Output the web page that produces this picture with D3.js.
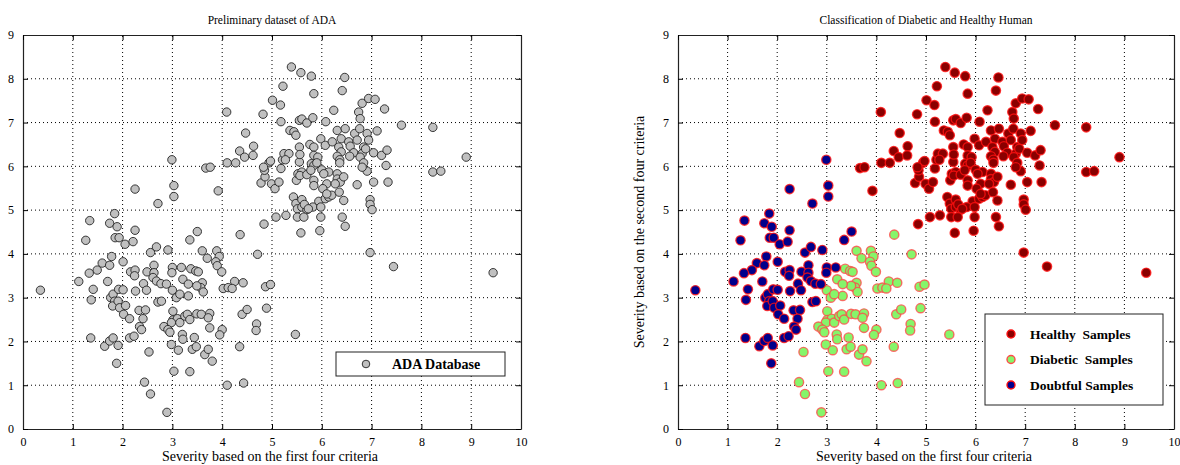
<!DOCTYPE html>
<html>
<head>
<meta charset="utf-8">
<script src="https://cdn.jsdelivr.net/npm/d3@7"></script>
<style>
  body { margin: 0; background: #fff; }
  text { font-family: "Liberation Serif", "DejaVu Serif", serif; fill: #000; }
</style>
</head>
<body>
<div id="chart"></div>
<script>
// data, [severity first four, severity second four]
var healthy = [
  [4.09,7.24],[4.10,6.08],[4.27,6.08],[4.35,6.35],[4.47,6.76],[4.45,6.21],[4.63,6.46],[4.62,6.25],
  [3.67,5.96],[3.76,5.98],[3.92,5.44],[4.82,7.19],[4.84,4.68],[5.08,4.84],[5.28,4.88],[4.78,5.62],
  [4.86,5.76],[4.85,5.91],[4.94,6.08],[4.99,5.60],[5.06,5.49],[5.14,5.64],[5.18,5.95],[5.21,6.15],
  [5.24,6.29],[5.34,6.29],[5.01,7.51],[5.17,7.40],[5.18,7.02],[5.22,7.83],[5.39,8.27],[5.36,6.82],
  [5.44,6.79],[5.48,6.71],[5.43,5.30],[5.48,5.15],[5.51,5.03],[5.51,4.84],[5.58,4.48],[5.49,5.68],
  [5.52,5.83],[5.55,6.10],[5.55,6.44],[5.55,7.05],[5.58,8.14],[5.79,8.06],[6.46,8.03],[5.84,7.66],
  [6.41,7.73],[5.60,7.08],[5.70,6.99],[5.82,7.11],[6.08,7.02],[6.24,7.28],[6.74,7.24],[6.77,7.09],
  [6.81,7.44],[6.94,7.55],[7.07,7.53],[7.26,7.31],[7.60,6.94],[8.23,6.89],[8.90,6.21],[8.23,5.87],
  [8.39,5.89],[6.31,6.82],[6.47,6.86],[6.66,6.75],[6.76,6.86],[7.11,6.81],[5.98,6.63],[6.07,6.48],
  [6.21,6.56],[6.39,6.63],[6.54,6.56],[6.57,6.46],[6.71,6.60],[6.84,6.44],[6.91,6.75],[6.94,6.60],
  [5.76,6.50],[5.84,6.44],[6.34,6.44],[6.39,6.33],[6.64,6.31],[6.81,6.29],[6.88,6.40],[7.04,6.31],
  [7.20,6.25],[7.31,6.37],[7.29,6.02],[7.33,5.64],[7.04,5.64],[6.71,5.58],[5.27,6.15],[4.97,6.12],
  [4.83,5.98],[5.56,6.27],[5.84,6.25],[5.92,6.21],[5.79,6.06],[5.84,6.02],[5.90,6.08],[6.00,5.92],
  [6.14,5.87],[6.31,6.23],[6.36,6.15],[6.36,6.08],[6.56,6.23],[6.77,6.21],[6.84,6.08],[6.91,5.89],
  [6.81,5.98],[5.60,5.87],[5.56,5.79],[5.70,5.81],[5.78,5.91],[5.84,5.68],[5.84,5.56],[6.04,5.83],
  [6.10,5.60],[6.02,5.49],[6.31,5.83],[6.31,5.71],[6.37,5.64],[6.27,5.60],[6.44,5.76],[5.60,5.24],
  [5.60,5.07],[5.70,5.01],[5.65,5.13],[5.94,5.20],[6.07,5.26],[6.14,5.30],[6.20,5.34],[6.10,5.37],
  [6.35,5.41],[6.44,5.22],[5.82,5.07],[5.98,5.07],[5.73,5.03],[6.97,5.24],[6.97,5.13],[7.01,5.01],
  [5.64,4.84],[5.98,4.84],[6.41,4.84],[6.47,4.63],[5.96,4.53],[6.97,4.03],[7.44,3.71],[9.44,3.57]
];

var diabetic = [
  [4.36,4.44],[4.71,3.99],[4.87,3.25],[4.97,3.30],[4.89,2.76],[4.69,2.40],[4.68,2.25],[5.47,2.16],
  [4.35,1.88],[4.40,2.62],[4.50,2.73],[4.25,3.37],[4.42,3.34],[4.02,3.21],[4.12,3.23],[4.20,3.21],
  [4.10,1.00],[4.43,1.05],[3.60,4.07],[3.70,3.90],[3.89,4.07],[3.94,3.94],[3.87,3.82],[3.90,3.73],
  [3.99,3.59],[3.60,3.34],[3.57,3.23],[3.62,3.13],[3.49,3.27],[3.37,3.66],[3.47,3.61],[3.52,3.59],
  [3.21,3.42],[3.32,3.31],[3.32,3.04],[3.00,3.17],[3.08,3.00],[3.15,3.08],[3.01,2.69],[3.01,2.49],
  [3.10,2.52],[2.98,2.43],[2.83,2.34],[2.91,2.27],[2.95,2.21],[3.15,2.43],[3.25,2.58],[3.30,2.62],
  [3.35,2.50],[3.49,2.63],[3.58,2.62],[3.75,2.64],[3.72,2.54],[3.75,2.31],[3.20,2.16],[3.21,2.05],
  [3.44,2.09],[4.00,2.27],[3.95,2.15],[2.53,1.76],[2.98,1.93],[3.12,1.80],[3.40,1.82],[3.48,1.88],
  [3.65,1.70],[3.72,1.82],[3.80,1.55],[3.03,1.32],[3.35,1.31],[2.44,1.07],[2.56,0.80],[2.89,0.38]
];

var doubtful = [
  [0.35,3.17],[1.34,4.76],[1.74,4.70],[1.89,4.62],[2.25,4.54],[1.26,4.31],[1.85,4.37],[1.93,4.37],
  [2.05,4.22],[2.21,4.28],[1.78,3.94],[2.01,3.82],[1.59,3.79],[1.74,3.74],[1.49,3.63],[1.33,3.56],
  [1.12,3.37],[1.70,3.37],[1.41,3.19],[1.37,2.95],[2.16,3.59],[2.25,3.63],[2.24,3.50],[2.26,3.15],
  [2.42,3.32],[2.49,3.59],[2.56,4.03],[2.68,4.16],[2.91,4.09],[2.63,3.74],[2.63,3.57],[2.61,3.46],
  [2.68,3.38],[2.77,3.32],[2.88,3.31],[3.00,3.69],[2.99,3.57],[3.18,3.69],[3.35,4.32],[3.50,4.51],
  [2.48,3.17],[1.76,3.00],[1.81,3.08],[1.92,3.19],[2.01,3.18],[1.84,2.92],[1.80,2.81],[1.91,2.92],
  [1.94,2.77],[2.06,2.82],[2.02,2.62],[2.14,2.52],[2.71,2.90],[2.78,2.92],[2.33,2.71],[2.46,2.72],
  [2.41,2.52],[2.34,2.34],[2.38,2.27],[2.14,2.08],[2.23,2.12],[1.36,2.08],[1.64,1.89],[1.74,2.01],
  [1.81,2.08],[1.91,1.91],[1.88,1.50],[1.84,4.92],[2.25,5.48],[2.71,5.15],[2.99,6.15],[3.03,5.56],
  [3.03,5.31]
];

var xTicks = [0,1,2,3,4,5,6,7,8,9,10];
var yTicks = [0,1,2,3,4,5,6,7,8,9];

var width = 1180, height = 465;
var svg = d3.select("#chart").append("svg")
    .attr("width", width).attr("height", height);

// one MATLAB-style boxed panel
function panel(left, right, title, yLabel) {
    var x = d3.scaleLinear().domain([0, 10]).range([left, right]);
    var y = d3.scaleLinear().domain([0, 9]).range([429, 35]);
    var g = svg.append("g");

    // dotted grid
    g.selectAll(".gx").data(xTicks.slice(1, -1)).enter().append("line")
        .attr("x1", d => x(d)).attr("x2", d => x(d))
        .attr("y1", y(0)).attr("y2", y(9))
        .attr("stroke", "#000").attr("stroke-width", 1)
        .attr("stroke-dasharray", "1,3");
    g.selectAll(".gy").data(yTicks.slice(1, -1)).enter().append("line")
        .attr("x1", x(0)).attr("x2", x(10))
        .attr("y1", d => y(d)).attr("y2", d => y(d))
        .attr("stroke", "#000").attr("stroke-width", 1)
        .attr("stroke-dasharray", "1,3");

    // axes with inward ticks, on all four sides
    g.append("g").attr("transform", "translate(0," + y(0) + ")")
        .call(d3.axisBottom(x).tickValues(xTicks).tickSizeInner(-5).tickSizeOuter(0).tickPadding(8));
    g.append("g").attr("transform", "translate(" + x(0) + ",0)")
        .call(d3.axisLeft(y).tickValues(yTicks).tickSizeInner(-5).tickSizeOuter(0).tickPadding(9));
    g.append("g").attr("transform", "translate(0," + y(9) + ")")
        .call(d3.axisTop(x).tickValues(xTicks).tickSizeInner(-5).tickSizeOuter(0).tickFormat(""));
    g.append("g").attr("transform", "translate(" + x(10) + ",0)")
        .call(d3.axisRight(y).tickValues(yTicks).tickSizeInner(-5).tickSizeOuter(0).tickFormat(""));
    g.selectAll(".domain").attr("stroke", "#222").attr("stroke-width", 1.2);
    g.selectAll(".tick text")
        .style("font-family", "'Liberation Serif', serif").style("font-size", "12px");

    g.append("text").attr("x", (left + right) / 2).attr("y", 24)
        .attr("text-anchor", "middle").style("font-size", "11.5px").text(title);
    g.append("text").attr("x", (left + right) / 2 - 2).attr("y", 461)
        .attr("text-anchor", "middle").style("font-size", "14px")
        .text("Severity based on the first four criteria");
    if (yLabel) {
        g.append("text").attr("transform", "translate(644," + 232 + ") rotate(-90)")
            .attr("text-anchor", "middle").style("font-size", "14px").text(yLabel);
    }
    return {g: g, x: x, y: y};
}

// left panel: all samples in grey
var p1 = panel(23, 521, "Preliminary dataset of ADA");
var all = healthy.concat(diabetic, doubtful);
p1.g.append("g").selectAll("circle").data(all).enter().append("circle")
    .attr("cx", d => p1.x(d[0])).attr("cy", d => p1.y(d[1]))
    .attr("r", 4.2)
    .attr("fill", "#c0c0c0").attr("stroke", "#222").attr("stroke-width", 0.9);

var l1 = p1.g.append("g");
l1.append("rect").attr("x", 336).attr("y", 352).attr("width", 169).attr("height", 24)
    .attr("fill", "#fff").attr("stroke", "#222");
l1.append("circle").attr("cx", 366).attr("cy", 364).attr("r", 3.8)
    .attr("fill", "#c0c0c0").attr("stroke", "#222").attr("stroke-width", 0.9);
l1.append("text").attr("x", 392).attr("y", 369).style("font-size", "14px")
    .style("font-weight", "bold").text("ADA Database");

// right panel: classified samples
var p2 = panel(678, 1174, "Classification of Diabetic and Healthy Human",
    "Severity based on the second four criteria");

var classes = [
    {name: "Healthy  Samples", data: healthy, fill: "#8a0000", stroke: "#ff1010"},
    {name: "Diabetic  Samples", data: diabetic, fill: "#86f56a", stroke: "#ff4a4a"},
    {name: "Doubtful Samples", data: doubtful, fill: "#00008c", stroke: "#ff1010"}
];

classes.forEach(function(c) {
    p2.g.append("g").selectAll("circle").data(c.data).enter().append("circle")
        .attr("cx", d => p2.x(d[0])).attr("cy", d => p2.y(d[1]))
        .attr("r", 4.6)
        .attr("fill", c.fill).attr("stroke", c.stroke).attr("stroke-width", 1.4)
        .attr("stroke-opacity", 0.8);
});

var l2 = p2.g.append("g");
l2.append("rect").attr("x", 985).attr("y", 314).attr("width", 178).attr("height", 91)
    .attr("fill", "#fff").attr("stroke", "#222");
classes.forEach(function(c, i) {
    var cy = 334 + i * 25.5;
    l2.append("circle").attr("cx", 1011).attr("cy", cy).attr("r", 4)
        .attr("fill", c.fill).attr("stroke", c.stroke).attr("stroke-width", 1.4);
    l2.append("text").attr("x", 1030).attr("y", cy + 4.5)
        .style("font-size", "13.5px").style("font-weight", "bold")
        .attr("xml:space", "preserve").style("white-space", "pre").text(c.name);
});
</script>
</body>
</html>
